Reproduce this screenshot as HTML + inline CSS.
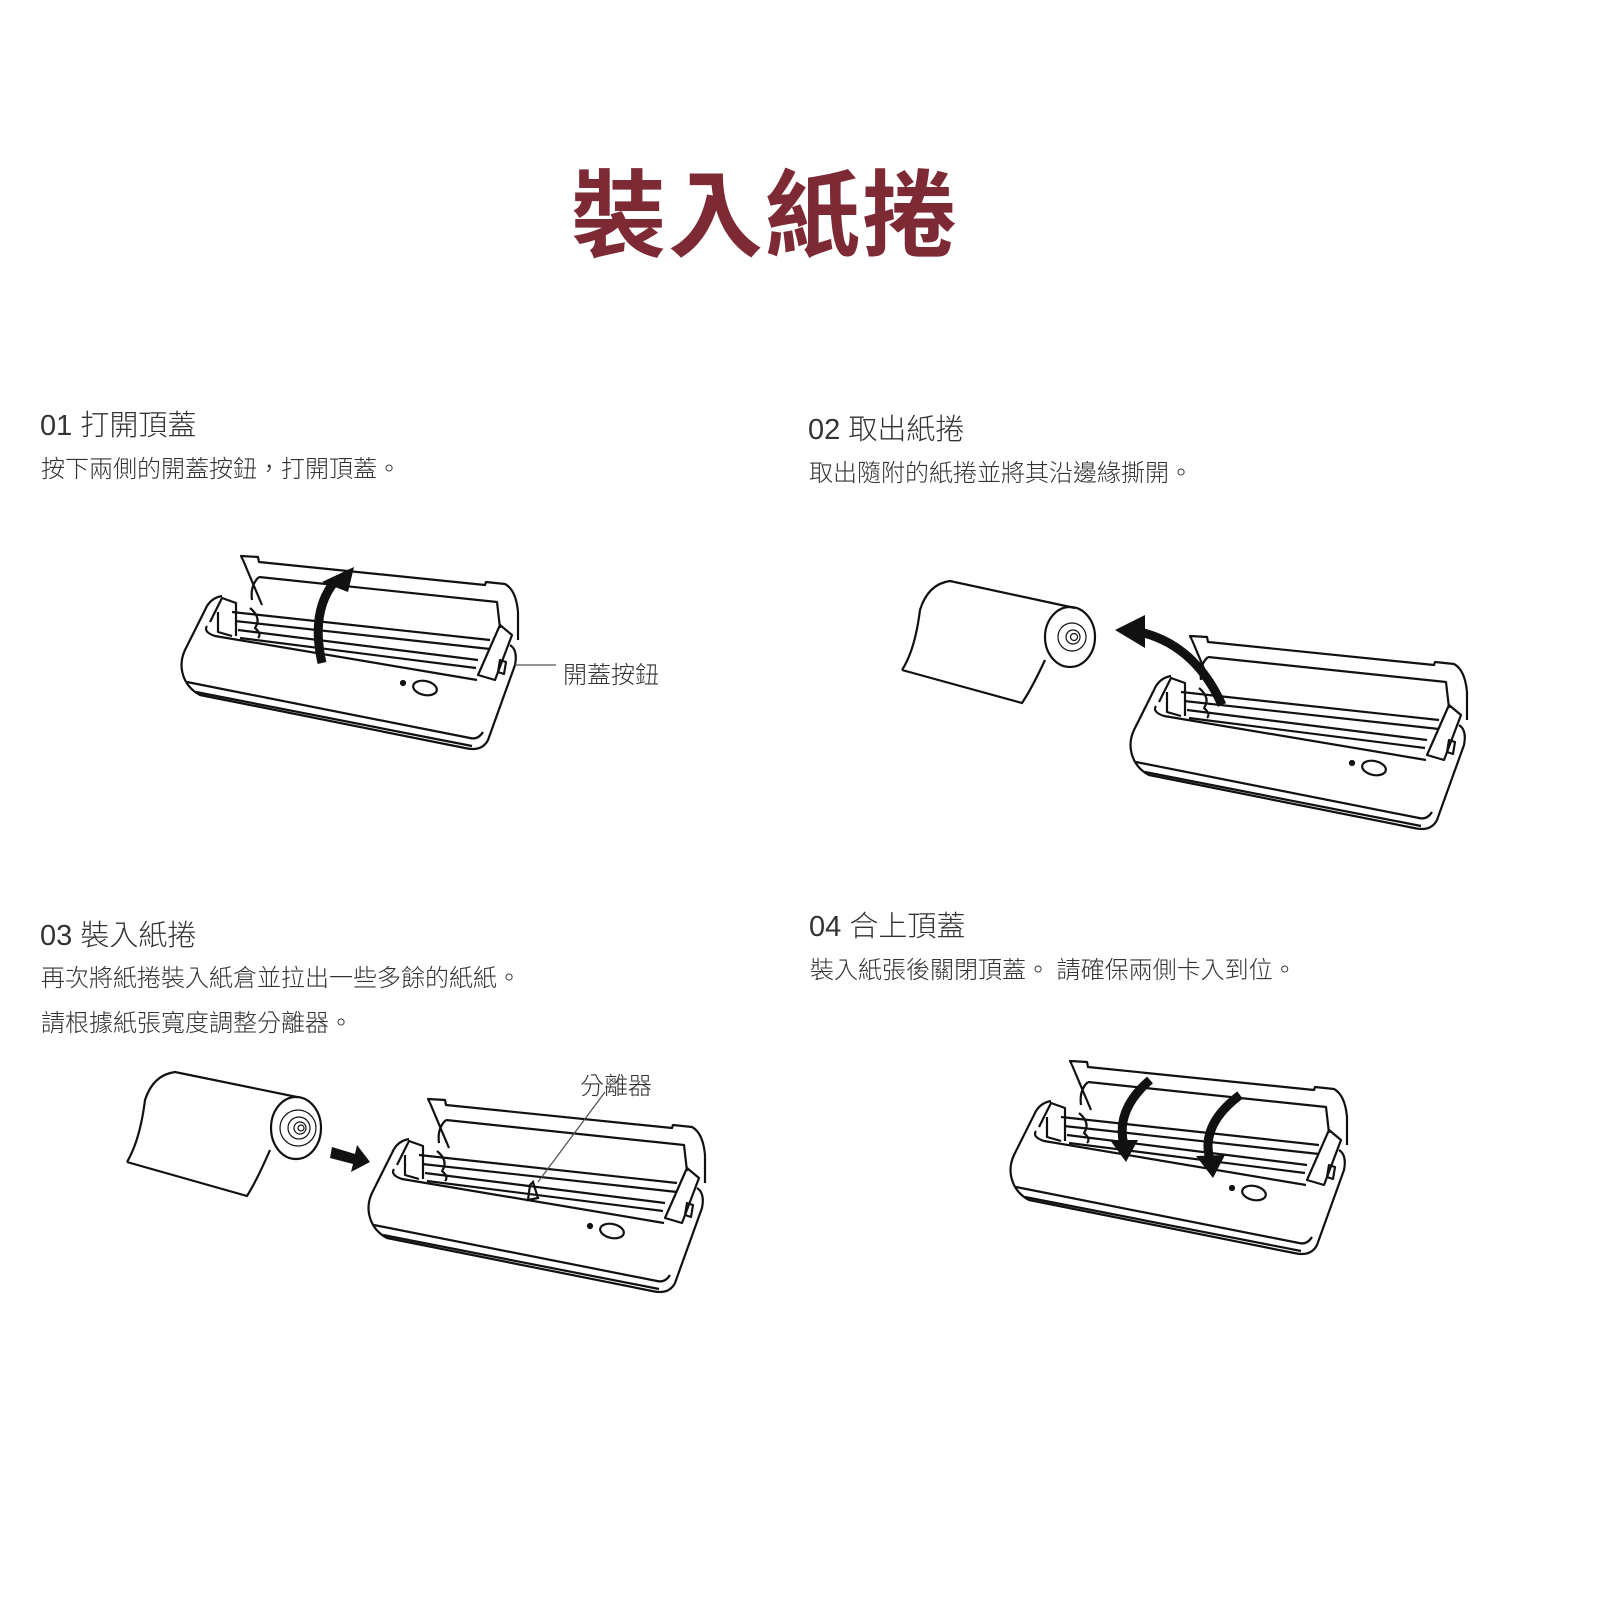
<!DOCTYPE html>
<html><head><meta charset="utf-8"><style>
body{margin:0;background:#fff;width:1600px;height:1600px;overflow:hidden;position:relative;font-family:"Liberation Sans","Noto Sans CJK TC",sans-serif;color:#333}
.t{position:absolute;white-space:nowrap}
h1{position:absolute;left:0;width:1530px;text-align:center;top:140px;margin:0;font-size:95px;font-weight:bold;color:#7d2a35;letter-spacing:2px;font-family:"Liberation Sans","Noto Sans CJK TC",sans-serif}
.h{font-size:29px;color:#333;font-weight:300}
.s{font-size:24px;color:#333;font-weight:300}
svg{position:absolute;left:0;top:0}
</style></head><body>
<h1>裝入紙捲</h1>
<div class="t h" style="left:40px;top:402px">01 打開頂蓋</div>
<div class="t s" style="left:41px;top:449px">按下兩側的開蓋按鈕，打開頂蓋。</div>
<div class="t h" style="left:808px;top:406px">02 取出紙捲</div>
<div class="t s" style="left:809px;top:453px">取出隨附的紙捲並將其沿邊緣撕開。</div>
<div class="t h" style="left:40px;top:912px">03 裝入紙捲</div>
<div class="t s" style="left:41px;top:958px">再次將紙捲裝入紙倉並拉出一些多餘的紙紙。</div>
<div class="t s" style="left:41px;top:1003px">請根據紙張寬度調整分離器。</div>
<div class="t h" style="left:809px;top:903px">04 合上頂蓋</div>
<div class="t s" style="left:810px;top:950px">裝入紙張後關閉頂蓋。 請確保兩側卡入到位。</div>
<div class="t s" style="left:563px;top:655px">開蓋按鈕</div>
<div class="t s" style="left:580px;top:1066px">分離器</div>
<svg width="1600" height="1600" viewBox="0 0 1600 1600">
<defs>
<g id="p" fill="none" stroke="#111" stroke-width="2.2" stroke-linejoin="round">
<path d="M243,560 L241,556 L258,557 L259,562 L485,585 L486,582 L505,584 Q516,590 518,612 L518,640"/>
<path d="M243,560 L262,605"/>
<path d="M259,577 L497,602 L500,628"/>
<path d="M259,577 Q250,585 252,600"/>
<path d="M222,596 Q210,598 205,610 L185,650 Q178,665 185,680 Q190,690 200,695 L465,748 Q482,752 488,740 L515,665 Q518,650 510,645"/>
<path d="M207,626 Q203,632 215,636 L477,680"/>
<path d="M232,612 L490,640"/>
<path d="M235,621 L490,649"/>
<path d="M238,630 L478,660"/>
<path d="M240,638 L476,668"/>
<path d="M187,682 L470,738 Q478,740 483,732"/>
<path d="M196,692 L472,746"/>
<path d="M478,675 L500,625 L512,635 L495,680 Z"/>
<path d="M210,622 L222,598 L236,603 L236,636"/>
<path d="M218,612 L218,632 L232,636"/>
<path d="M250,608 Q262,618 255,628 Q262,634 258,638"/>
<ellipse cx="425" cy="688" rx="12" ry="7" transform="rotate(12 425 688)"/>
<circle cx="403" cy="683" r="2" fill="#111"/>
<path d="M500,660 L506,662 L504,674 L498,672 Z"/>
</g>
</defs>
<use href="#p"/>
<use href="#p" transform="translate(949,80)"/>
<use href="#p" transform="translate(187,543)"/>
<use href="#p" transform="translate(829,505)"/>
<g fill="#111">
<path d="M322,663 Q310,610 336,580" stroke="#111" stroke-width="9" fill="none"/>
<polygon points="354,567 322,582 348,592"/>
<path d="M1222,705 Q1195,645 1140,632" stroke="#111" stroke-width="9" fill="none"/>
<polygon points="1115,630 1145,615 1145,648"/>
<path d="M1150,1080 Q1115,1110 1124,1145" stroke="#111" stroke-width="9" fill="none"/>
<polygon points="1126,1162 1110,1140 1138,1140"/>
<path d="M1240,1095 Q1200,1125 1210,1160" stroke="#111" stroke-width="9" fill="none"/>
<polygon points="1213,1178 1196,1156 1225,1155"/>
<polygon points="332,1147 355,1154 357,1145 370,1162 351,1172 353,1164 330,1158"/>
</g>
<g fill="none" stroke="#111" stroke-width="2.2">
<path d="M902,670 Q915,650 920,610 Q928,584 950,581 L1075,608"/>
<path d="M902,670 L1022,703 Q1032,688 1045,660"/>
<ellipse cx="1070" cy="637" rx="25" ry="30"/>
<circle cx="1072" cy="637" r="14" stroke-width="1.2"/><circle cx="1073" cy="637" r="7" stroke-width="1.2"/><circle cx="1074" cy="637" r="3.5" stroke-width="1.2"/>
<path d="M127,1162 Q140,1140 145,1100 Q153,1075 175,1072 L297,1097"/>
<path d="M127,1162 L247,1196 Q257,1180 270,1150"/>
<ellipse cx="296" cy="1128" rx="25" ry="31"/>
<circle cx="298" cy="1128" r="18" stroke-width="1.2"/><circle cx="299" cy="1128" r="11" stroke-width="1.2"/><circle cx="300" cy="1128" r="6" stroke-width="1.2"/><circle cx="301" cy="1128" r="3" stroke-width="1.2"/>
<path d="M515,665 L556,665" stroke="#555" stroke-width="1.3"/>
<path d="M605,1092 L538,1182" stroke="#555" stroke-width="1.3"/>
<path d="M533,1182 L538,1198 L528,1200 L530,1185 Z"/>
</g>
</svg>
</body></html>
